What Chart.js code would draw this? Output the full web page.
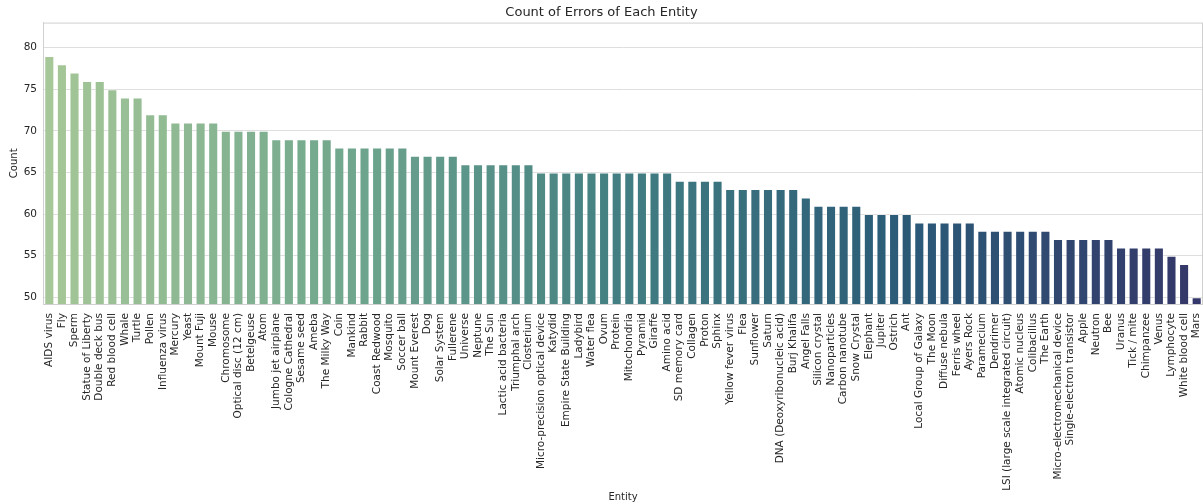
<!DOCTYPE html>
<html>
<head>
<meta charset="utf-8">
<script src="https://cdn.jsdelivr.net/npm/chart.js@4"></script>
<style>
  html, body { margin: 0; padding: 0; background: #fff; }
  #wrap { width: 1203px; height: 504px; }
</style>
</head>
<body>
<div id="wrap"><canvas id="chart"></canvas></div>
<script>
const entities = [
  "AIDS virus", "Fly", "Sperm", "Statue of Liberty", "Double deck bus", "Red blood cell",
  "Whale", "Turtle", "Pollen", "Influenza virus", "Mercury", "Yeast", "Mount Fuji", "Mouse",
  "Chromosome", "Optical disc (12 cm)", "Betelgeuse", "Atom", "Jumbo jet airplane",
  "Cologne Cathedral", "Sesame seed", "Ameba", "The Milky Way", "Coin", "Mankind", "Rabbit",
  "Coast Redwood", "Mosquito", "Soccer ball", "Mount Everest", "Dog", "Solar System",
  "Fullerene", "Universe", "Neptune", "The Sun", "Lactic acid bacteria", "Triumphal arch",
  "Closterium", "Micro-precision optical device", "Katydid", "Empire State Building",
  "Ladybird", "Water flea", "Ovum", "Protein", "Mitochondria", "Pyramid", "Giraffe",
  "Amino acid", "SD memory card", "Collagen", "Proton", "Sphinx", "Yellow fever virus",
  "Flea", "Sunflower", "Saturn", "DNA (Deoxyribonucleic acid)", "Burj Khalifa", "Angel Falls",
  "Silicon crystal", "Nanoparticles", "Carbon nanotube", "Snow Crystal", "Elephant", "Jupiter",
  "Ostrich", "Ant", "Local Group of Galaxy", "The Moon", "Diffuse nebula", "Ferris wheel",
  "Ayers Rock", "Paramecium", "Dendrimer", "LSI (large scale integrated circuit)",
  "Atomic nucleus", "Colibacillus", "The Earth", "Micro-electromechanical device",
  "Single-electron transistor", "Apple", "Neutron", "Bee", "Uranus", "Tick / mite",
  "Chimpanzee", "Venus", "Lymphocyte", "White blood cell", "Mars"
];
const counts = [
  79, 78, 77, 76, 76, 75,
  74, 74, 72, 72, 71, 71, 71, 71,
  70, 70, 70, 70, 69,
  69, 69, 69, 69, 68, 68, 68,
  68, 68, 68, 67, 67, 67,
  67, 66, 66, 66, 66, 66,
  66, 65, 65, 65,
  65, 65, 65, 65, 65, 65, 65,
  65, 64, 64, 64, 64, 63,
  63, 63, 63, 63, 63, 62,
  61, 61, 61, 61, 60, 60,
  60, 60, 59, 59, 59, 59,
  59, 58, 58, 58,
  58, 58, 58, 57,
  57, 57, 57, 57, 56, 56,
  56, 56, 55, 54, 50
];
const yTicks = [50, 55, 60, 65, 70, 75, 80];

// crest-like palette, light green -> dark blue
const stops = [[166, 199, 151], [114, 168, 142], [66, 126, 130], [43, 90, 119], [52, 55, 105]];
function colorAt(t) {
  const p = t * (stops.length - 1);
  const i = Math.min(Math.floor(p), stops.length - 2);
  const f = p - i;
  const c = stops[i].map((v, k) => Math.round(v + (stops[i + 1][k] - v) * f));
  return `rgb(${c[0]},${c[1]},${c[2]})`;
}
const barColors = counts.map((_, i) => colorAt(i / (counts.length - 1)));

const frame = {
  id: "frame",
  afterDraw(chart) {
    const a = chart.chartArea, ctx = chart.ctx;
    ctx.save();
    ctx.strokeStyle = "#d0d0d0";
    ctx.lineWidth = 1;
    ctx.strokeRect(a.left + 0.5, a.top + 0.5, a.right - a.left - 1, a.bottom - a.top);
    ctx.restore();
  }
};

Chart.defaults.font.family = "'DejaVu Sans', sans-serif";
Chart.defaults.color = "#262626";

new Chart(document.getElementById("chart"), {
  type: "bar",
  data: {
    labels: entities,
    datasets: [{
      label: "Count",
      data: counts,
      backgroundColor: barColors,
      borderColor: "rgba(255,255,255,0.35)",
      borderWidth: 1,
      categoryPercentage: 0.8,
      barPercentage: 1.0
    }]
  },
  options: {
    responsive: true,
    maintainAspectRatio: false,
    animation: false,
    layout: { padding: 0 },
    plugins: {
      legend: { display: false },
      tooltip: { enabled: false },
      title: {
        display: true,
        text: "Count of Errors of Each Entity",
        font: { size: 13, weight: "normal" },
        padding: { top: 5, bottom: 2 }
      }
    },
    scales: {
      x: {
        afterFit: (s) => { s.height = 200; s.paddingLeft = 0; s.paddingRight = 0; },
        grid: { display: false },
        border: { display: true, color: "#d0d0d0" },
        ticks: {
          autoSkip: false,
          minRotation: 90,
          maxRotation: 90,
          padding: 1,
          font: { size: 10.5 }
        },
        title: { display: true, text: "Entity", font: { size: 10 }, padding: { top: 0, bottom: 1 } }
      },
      y: {
        min: 49.2,
        max: 83,
        afterFit: (s) => { s.width = 43; },
        afterBuildTicks: (s) => { s.ticks = yTicks.map(v => ({ value: v })); },
        grid: { color: "#dedede", drawTicks: false },
        border: { display: true, color: "#d0d0d0" },
        ticks: { padding: 6, font: { size: 10.5 } },
        title: { display: true, text: "Count", font: { size: 10 }, padding: { top: 8, bottom: 4 } }
      }
    }
  },
  plugins: [frame]
});
</script>
</body>
</html>
